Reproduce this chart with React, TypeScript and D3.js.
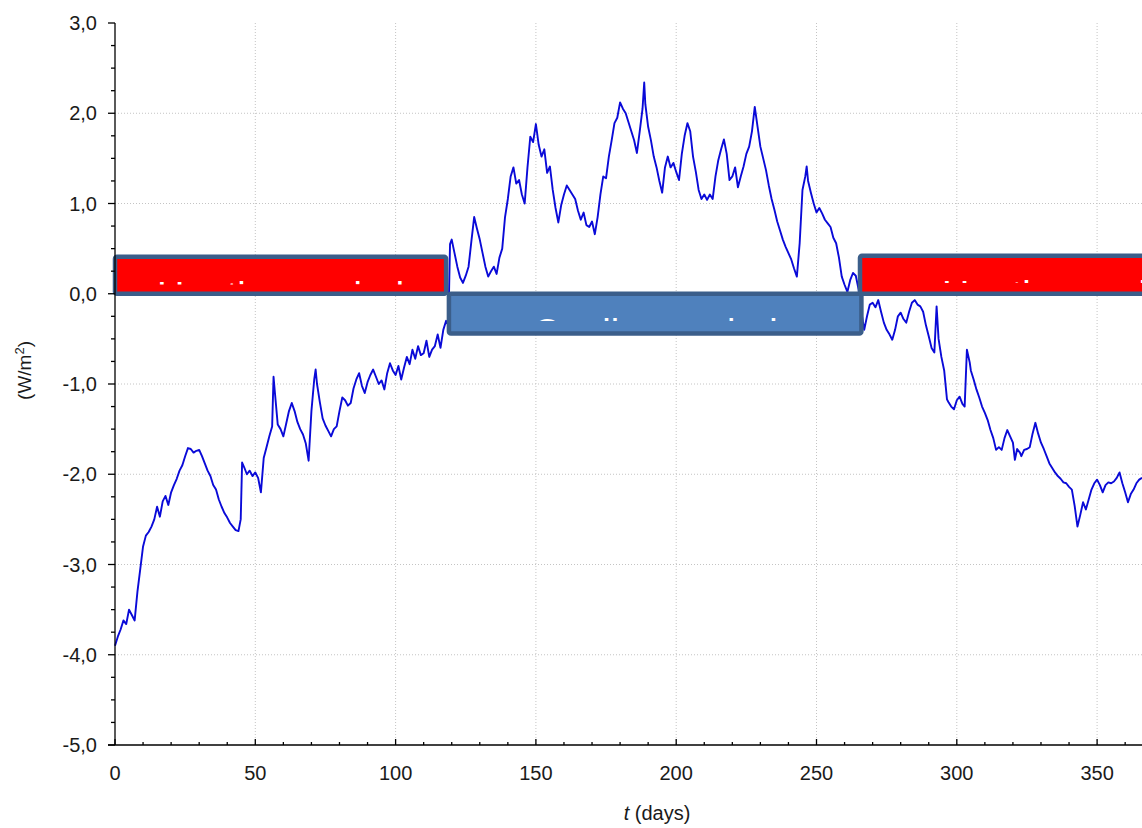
import * as d3 from 'd3';
import React, { useEffect } from 'react';

// days at which the trace was read, and the flux value there (W/m2)
const days = [
  0, 1, 2, 3, 4, 5, 6, 7, 8, 9, 10, 11, 12, 13, 14, 15, 16, 17, 18, 19, 20, 21, 22, 23, 24, 25, 26, 27, 28, 29,
  30, 31, 32, 33, 34, 35, 36, 37, 38, 39, 40, 41, 42, 43, 44, 44.8, 45.3, 46, 47, 48, 49, 50, 51, 52, 53, 54, 55, 56, 56.5, 57,
  58, 59, 60, 61, 62, 63, 64, 65, 66, 67, 68, 69, 70, 71, 71.5, 72, 73, 74, 75, 76, 77, 78, 79, 80, 81, 82, 83, 84, 85, 86,
  87, 88, 89, 90, 91, 92, 93, 94, 95, 96, 97, 98, 99, 100, 101, 102, 103, 104, 105, 106, 107, 108, 109, 110, 111, 112, 113, 114, 115, 116,
  117, 118, 118.8, 119.4, 120, 121, 122, 123, 124, 125, 126, 127, 128, 129, 130, 131, 132, 133, 134, 135, 136, 137, 138, 139, 140, 141, 142, 143, 144, 145,
  146, 147, 148, 149, 150, 151, 152, 153, 154, 155, 156, 157, 158, 159, 160, 161, 162, 163, 164, 165, 166, 167, 168, 169, 170, 171, 172, 173, 174, 175,
  176, 177, 178, 179, 180, 181, 182, 183, 184, 185, 186, 187, 188, 188.6, 189, 190, 191, 192, 193, 194, 195, 196, 197, 198, 199, 200, 201, 202, 203, 204,
  205, 206, 207, 208, 209, 210, 211, 212, 213, 214, 215, 216, 217, 218, 219, 220, 221, 222, 223, 224, 225, 226, 227, 228, 229, 230, 231, 232, 233, 234,
  235, 236, 237, 238, 239, 240, 241, 242, 243, 244, 245, 246, 246.5, 247, 248, 249, 250, 251, 252, 253, 254, 255, 256, 257, 258, 259, 260, 261, 262, 263,
  264, 265, 266, 267, 268, 269, 270, 271, 272, 273, 274, 275, 276, 277, 278, 279, 280, 281, 282, 283, 284, 285, 286, 287, 288, 289, 290, 291, 292, 292.8,
  293.5, 294.5, 295.5, 296.5, 297, 298, 299, 300, 301, 302, 302.8, 303.6, 304.6, 305, 306, 307, 308, 309, 310, 311, 312, 313, 314, 315, 316, 317, 318, 319, 320, 320.7,
  321.5, 322.5, 323, 324, 325, 326, 327, 328, 329, 330, 331, 332, 333, 334, 335, 336, 337, 338, 339, 340, 341, 342, 343, 344, 345, 346, 347, 348, 349, 350,
  351, 352, 353, 354, 355, 356, 357, 358, 359, 360, 361, 362, 363, 364, 365, 366,
];

const flux = [
  -3.9, -3.8, -3.72, -3.62, -3.66, -3.5, -3.56, -3.62, -3.3, -3.05, -2.8, -2.68, -2.64, -2.58, -2.5, -2.36, -2.47, -2.3, -2.24, -2.34, -2.2, -2.12, -2.05, -1.96, -1.9, -1.8, -1.71, -1.72, -1.76, -1.74,
  -1.73, -1.8, -1.88, -1.96, -2.02, -2.12, -2.17, -2.28, -2.36, -2.43, -2.48, -2.54, -2.58, -2.62, -2.63, -2.5, -1.87, -1.92, -2.0, -1.96, -2.02, -1.98, -2.04, -2.2, -1.82, -1.7, -1.58, -1.47, -0.92, -1.1,
  -1.45, -1.5, -1.58, -1.44, -1.3, -1.21, -1.3, -1.42, -1.5, -1.56, -1.66, -1.85, -1.3, -0.95, -0.84, -1.0, -1.2, -1.38, -1.46, -1.52, -1.58, -1.5, -1.47, -1.3, -1.15, -1.18, -1.24, -1.21, -1.05, -0.95,
  -0.88, -1.02, -1.1, -0.98, -0.9, -0.84, -0.92, -1.0, -0.96, -1.06, -0.88, -0.77, -0.85, -0.9, -0.8, -0.95, -0.82, -0.7, -0.78, -0.62, -0.72, -0.58, -0.68, -0.66, -0.52, -0.7, -0.62, -0.58, -0.45, -0.6,
  -0.4, -0.3, -0.35, 0.55, 0.6, 0.45, 0.3, 0.18, 0.12, 0.2, 0.3, 0.58, 0.85, 0.72, 0.6, 0.45, 0.3, 0.19, 0.25, 0.3, 0.22, 0.4, 0.5, 0.85, 1.05, 1.3, 1.4, 1.22, 1.26, 1.1,
  1.0, 1.4, 1.74, 1.68, 1.88, 1.65, 1.52, 1.6, 1.34, 1.41, 1.15, 0.95, 0.79, 0.98, 1.1, 1.2, 1.15, 1.1, 1.05, 0.92, 0.82, 0.9, 0.76, 0.74, 0.8, 0.66, 0.85, 1.1, 1.3, 1.28,
  1.52, 1.7, 1.89, 1.95, 2.12, 2.05, 2.0, 1.9, 1.8, 1.7, 1.56, 1.8, 2.05, 2.34, 2.1, 1.85, 1.7, 1.52, 1.4, 1.25, 1.12, 1.4, 1.52, 1.4, 1.45, 1.35, 1.26, 1.55, 1.75, 1.89,
  1.8, 1.52, 1.35, 1.15, 1.05, 1.1, 1.04, 1.1, 1.05, 1.3, 1.48, 1.6, 1.71, 1.55, 1.26, 1.3, 1.4, 1.18, 1.3, 1.41, 1.55, 1.63, 1.8, 2.07, 1.85, 1.63, 1.5, 1.37, 1.2, 1.05,
  0.93, 0.8, 0.7, 0.6, 0.52, 0.45, 0.38, 0.28, 0.19, 0.56, 1.15, 1.3, 1.41, 1.25, 1.12, 1.0, 0.9, 0.95, 0.89, 0.82, 0.78, 0.74, 0.62, 0.56, 0.4, 0.19, 0.1, 0.02, 0.15, 0.23,
  0.2, 0.05, -0.2, -0.4, -0.25, -0.12, -0.1, -0.15, -0.07, -0.2, -0.32, -0.4, -0.45, -0.51, -0.4, -0.25, -0.21, -0.28, -0.32, -0.2, -0.1, -0.07, -0.12, -0.14, -0.2, -0.35, -0.47, -0.6, -0.65, -0.14,
  -0.5, -0.7, -0.85, -1.17, -1.2, -1.25, -1.28, -1.18, -1.14, -1.22, -1.25, -0.62, -0.76, -0.85, -0.95, -1.06, -1.15, -1.25, -1.32, -1.4, -1.51, -1.6, -1.73, -1.7, -1.73, -1.6, -1.51, -1.58, -1.65, -1.84,
  -1.72, -1.76, -1.8, -1.73, -1.72, -1.7, -1.55, -1.43, -1.55, -1.65, -1.72, -1.8, -1.88, -1.93, -1.98, -2.02, -2.05, -2.09, -2.1, -2.14, -2.17, -2.35, -2.58, -2.45, -2.31, -2.39, -2.28, -2.17, -2.1, -2.06,
  -2.12, -2.2, -2.12, -2.09, -2.1, -2.08, -2.04, -1.98, -2.1, -2.2, -2.31, -2.22, -2.17, -2.1, -2.06, -2.04,
];

// annotation boxes: day range, value range, label
const periodLabels = ['Heating period', 'Cooling period', 'Heating period'];
const periodStart = [0, 119, 265.5];
const periodEnd = [118, 266, 412];
const periodTop = [0.41, 0, 0.42];
const periodBottom = [0, -0.44, 0];
const periodFill = ['#ff0000', '#4f81bd', '#ff0000'];
// pixel y of the top of the (mostly hidden) label text
const labelTop = [281.5, 318, 280];

const xMajor = [0, 50, 100, 150, 200, 250, 300, 350];
const yMajor = [-5, -4, -3, -2, -1, 0, 1, 2, 3];

const W = 1142;
const H = 828;
const font = 'Arial, "Liberation Sans", sans-serif';

export default function App() {
  useEffect(() => {
    document.body.style.margin = '0';
  }, []);

  const x = d3.scaleLinear().domain([0, 366]).range([115, 1142]);
  const y = d3.scaleLinear().domain([-5, 3]).range([745, 23]);

  const fmt = d3
    .formatLocale({ decimal: ',', thousands: '.', grouping: [3], currency: ['', ''], minus: '-' })
    .format('.1f');

  const line = d3
    .line<number>()
    .x((_, i) => x(days[i]))
    .y((d) => y(d));

  const xMinor = d3.range(10, 366, 10).filter((d) => d % 50 !== 0);
  const yMinor = d3.range(-5, 3.01, 0.25).filter((d) => Math.abs(d - Math.round(d)) > 0.01);

  return (
    <svg width={W} height={H} style={{ display: 'block', background: '#fff' }} fontFamily={font}>
      <defs>
        {periodLabels.map((_, i) => (
          <clipPath id={`clip${i}`} key={i}>
            <rect
              x={x(periodStart[i])}
              y={y(periodTop[i])}
              width={x(periodEnd[i]) - x(periodStart[i])}
              height={labelTop[i] + 3 - y(periodTop[i])}
            />
          </clipPath>
        ))}
      </defs>

      {/* grid */}
      <g stroke="#c4c4c4" strokeWidth={1} strokeDasharray="1,2">
        {xMajor.filter((d) => d > 0).map((d) => (
          <line key={d} x1={x(d)} x2={x(d)} y1={y(3)} y2={y(-5)} />
        ))}
        {yMajor.filter((d) => d > -5 && d < 3).map((d) => (
          <line key={d} x1={x(0)} x2={W} y1={y(d)} y2={y(d)} />
        ))}
      </g>

      {/* series */}
      <path d={line(flux) ?? ''} fill="none" stroke="#0a0ad8" strokeWidth={1.9} strokeLinejoin="round" />

      {/* period boxes */}
      {periodLabels.map((label, i) => (
        <g key={i}>
          <rect
            x={x(periodStart[i])}
            y={y(periodTop[i])}
            width={x(periodEnd[i]) - x(periodStart[i])}
            height={y(periodBottom[i]) - y(periodTop[i])}
            fill={periodFill[i]}
            stroke="#3b5e8a"
            strokeWidth={4.5}
            rx={2}
          />
          <text
            clipPath={`url(#clip${i})`}
            x={(x(periodStart[i]) + x(periodEnd[i])) / 2}
            y={labelTop[i] + 27.5}
            textAnchor="middle"
            fill="#fff"
            fontSize={38}
          >
            {label}
          </text>
        </g>
      ))}

      {/* y axis */}
      <g stroke="#000" strokeWidth={1.3}>
        <line x1={x(0)} x2={x(0)} y1={y(3)} y2={y(-5)} />
        {yMajor.map((d) => (
          <line key={d} x1={x(0) - 7} x2={x(0)} y1={y(d)} y2={y(d)} />
        ))}
        {yMinor.map((d) => (
          <line key={d} x1={x(0) - 4} x2={x(0)} y1={y(d)} y2={y(d)} />
        ))}
      </g>
      <g fontSize={20} fill="#1a1a1a" textAnchor="end">
        {yMajor.map((d) => (
          <text key={d} x={97} y={y(d)} dy="0.36em">
            {fmt(d)}
          </text>
        ))}
      </g>
      <text
        transform={`translate(31,${y(-0.85)}) rotate(-90)`}
        textAnchor="middle"
        fontSize={19}
        fill="#1a1a1a"
      >
        (W/m<tspan dy={-7} fontSize={13}>2</tspan>
        <tspan dy={7}>)</tspan>
      </text>

      {/* x axis */}
      <g stroke="#000" strokeWidth={1.3}>
        <line x1={x(0) - 7} x2={W} y1={y(-5)} y2={y(-5)} />
        {xMajor.map((d) => (
          <line key={d} x1={x(d)} x2={x(d)} y1={y(-5)} y2={y(-5) - 6} />
        ))}
        {xMinor.map((d) => (
          <line key={d} x1={x(d)} x2={x(d)} y1={y(-5)} y2={y(-5) - 3} />
        ))}
      </g>
      <g fontSize={20} fill="#1a1a1a" textAnchor="middle">
        {xMajor.map((d) => (
          <text key={d} x={x(d)} y={780}>
            {d}
          </text>
        ))}
      </g>
      <text x={657} y={820} textAnchor="middle" fontSize={20} fill="#1a1a1a">
        <tspan fontStyle="italic">t</tspan> (days)
      </text>
    </svg>
  );
}
